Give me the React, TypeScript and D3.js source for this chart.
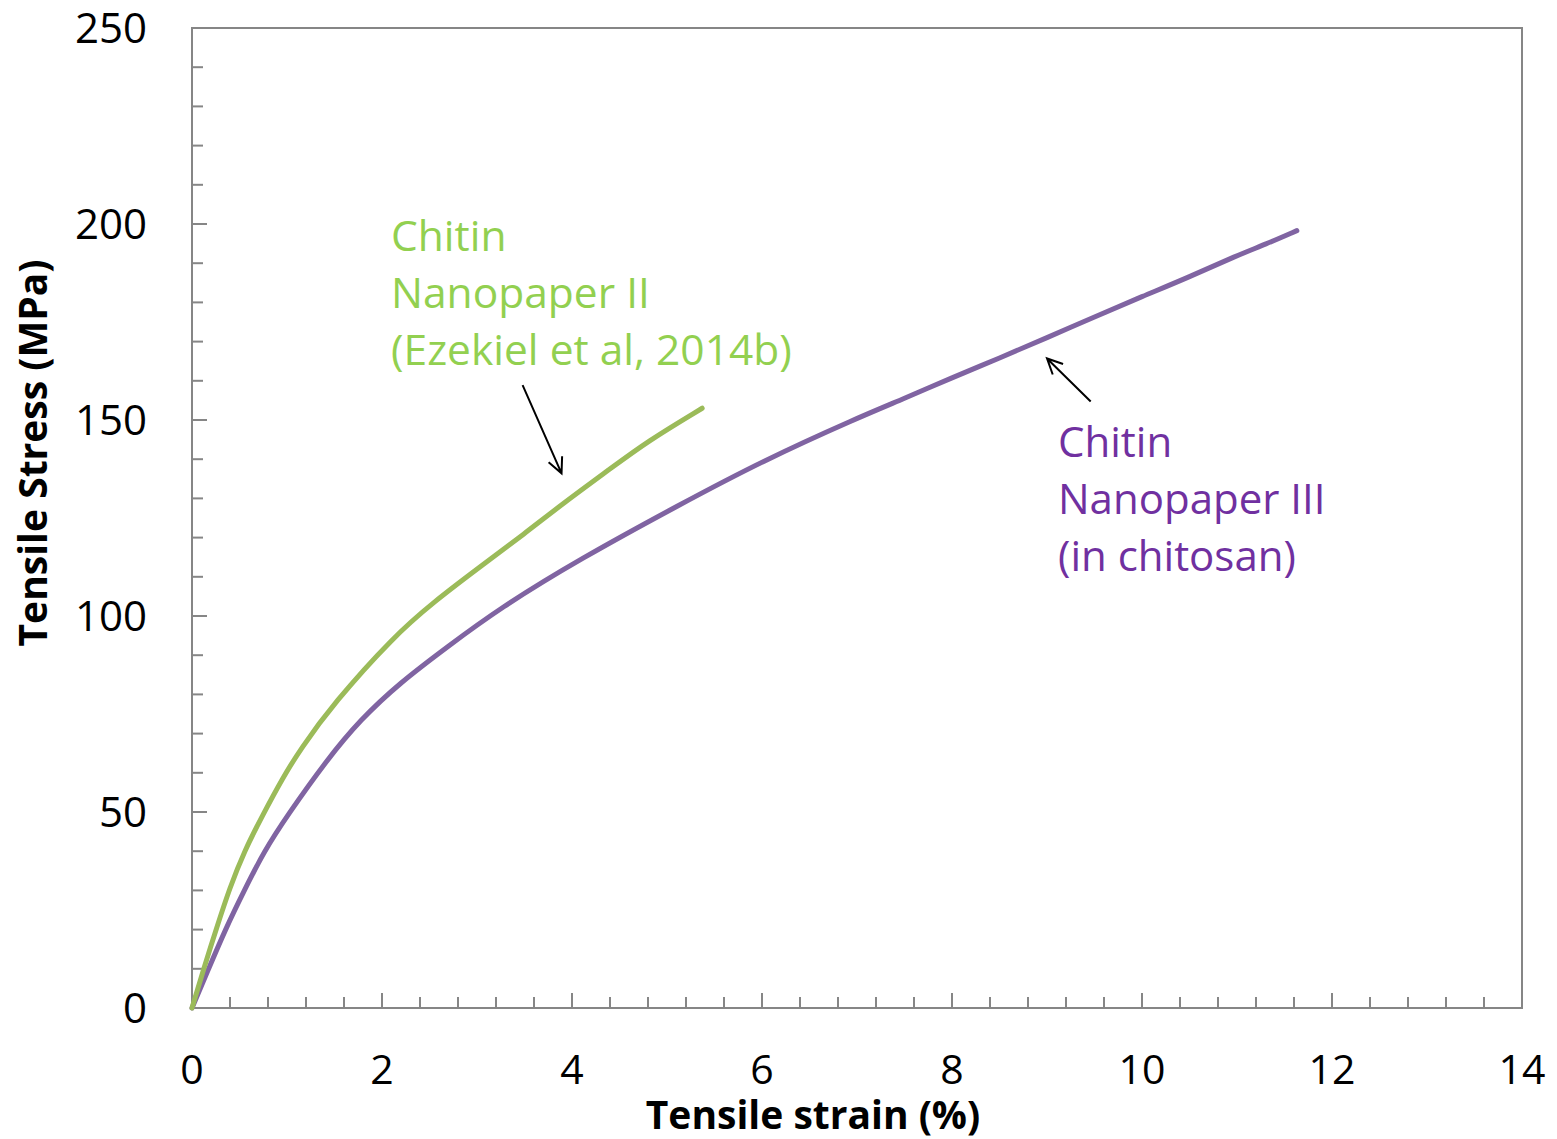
import React from "react";
import * as d3 from "d3";

// strain (%) / stress (MPa)
const strainII = [0, 0.123, 0.26, 0.395, 0.55, 0.75, 0.95, 1.14, 1.49, 2.12, 2.54, 3.03, 3.5, 3.91, 4.4, 4.79, 5.37];
const stressII = [0, 10, 20.5, 30.5, 40, 49.5, 58.5, 66, 77.7, 94.7, 103.5, 112.5, 121, 128.8, 137.5, 144.5, 153];

const strainIII = [0, 0.175, 0.35, 0.55, 0.76, 1.0, 1.42, 1.77, 2.19, 2.68, 3.24, 4.08, 5.14, 6.0, 7.0, 7.5, 8.0, 8.5, 9.0, 9.5, 10.0, 10.5, 11.0, 11.3, 11.63];
const stressIII = [0, 10, 20, 30, 40, 49, 63.3, 73.5, 83, 92, 102, 114.5, 128.5, 139.5, 150.5, 155.5, 160.8, 165.8, 171, 176.3, 181.5, 186.5, 192, 194.8, 198.3];

const xTicks = [0, 2, 4, 6, 8, 10, 12, 14];
const yTicks = [0, 50, 100, 150, 200, 250];

const labelII = ["Chitin", "Nanopaper II", "(Ezekiel et al, 2014b)"];
const labelIII = ["Chitin", "Nanopaper III", "(in chitosan)"];

const W = 1557;
const H = 1139;
const FONT = "'Open Sans', 'Noto Sans', sans-serif";
const AXIS = "#868686";

export default function App() {
  const x = d3.scaleLinear().domain([0, 14]).range([192, 1522]);
  const y = d3.scaleLinear().domain([0, 250]).range([1008, 28]);

  // basis spline keeps the measured curves free of kinks
  const line = d3.line<number>().curve(d3.curveBasis);

  const pathII = line.x((d) => x(d)).y((_d, i) => y(stressII[i]))(strainII);
  const pathIII = line.x((d) => x(d)).y((_d, i) => y(stressIII[i]))(strainIII);

  const xMinor = d3.range(0, 14.001, 0.4).filter((v) => Math.abs(v / 2 - Math.round(v / 2)) > 0.01);
  const yMinor = d3.range(0, 250.001, 10).filter((v) => v % 50 !== 0);

  // arrow from (x1,y1) to (x2,y2) in data units, open head
  const arrow = (x1: number, y1: number, x2: number, y2: number) => {
    const ax = x(x1), ay = y(y1), bx = x(x2), by = y(y2);
    const ang = Math.atan2(by - ay, bx - ax);
    const len = 17;
    const spread = Math.PI / 7;
    const h1x = bx - len * Math.cos(ang - spread), h1y = by - len * Math.sin(ang - spread);
    const h2x = bx - len * Math.cos(ang + spread), h2y = by - len * Math.sin(ang + spread);
    return `M${ax},${ay}L${bx},${by}M${h1x},${h1y}L${bx},${by}L${h2x},${h2y}`;
  };

  return (
    <div style={{ position: "absolute", left: 0, top: 0 }}>
      <svg width={W} height={H} style={{ display: "block", background: "#fff" }}>
        {/* plot frame */}
        <rect x={192} y={28} width={1330} height={980} fill="none" stroke={AXIS} strokeWidth={2} />

        {/* minor ticks */}
        {xMinor.map((v) => (
          <line key={"xm" + v} x1={x(v)} x2={x(v)} y1={y(0)} y2={y(0) - 11} stroke={AXIS} strokeWidth={2} />
        ))}
        {yMinor.map((v) => (
          <line key={"ym" + v} x1={x(0)} x2={x(0) + 11} y1={y(v)} y2={y(v)} stroke={AXIS} strokeWidth={2} />
        ))}
        {/* major ticks */}
        {xTicks.map((v) => (
          <line key={"xM" + v} x1={x(v)} x2={x(v)} y1={y(0)} y2={y(0) - 15} stroke={AXIS} strokeWidth={2} />
        ))}
        {yTicks.map((v) => (
          <line key={"yM" + v} x1={x(0)} x2={x(0) + 15} y1={y(v)} y2={y(v)} stroke={AXIS} strokeWidth={2} />
        ))}

        {/* tick labels */}
        {xTicks.map((v) => (
          <text key={"xl" + v} x={x(v)} y={1084} textAnchor="middle" fontFamily={FONT} fontSize={41} fill="#000">
            {v}
          </text>
        ))}
        {yTicks.map((v) => (
          <text key={"yl" + v} x={147} y={y(v)} dy="0.36em" textAnchor="end" fontFamily={FONT} fontSize={42} fill="#000">
            {v}
          </text>
        ))}

        {/* axis titles */}
        <text x={813} y={1129} textAnchor="middle" fontFamily={FONT} fontWeight="bold" fontSize={39} fill="#000">
          Tensile strain (%)
        </text>
        <text
          transform={`translate(47,453) rotate(-90)`}
          textAnchor="middle"
          fontFamily={FONT}
          fontWeight="bold"
          fontSize={39}
          fill="#000"
        >
          Tensile Stress (MPa)
        </text>

        {/* curves */}
        <path d={pathIII ?? ""} fill="none" stroke="#8064A2" strokeWidth={5} strokeLinecap="round" strokeLinejoin="round" />
        <path d={pathII ?? ""} fill="none" stroke="#9BBB59" strokeWidth={5} strokeLinecap="round" strokeLinejoin="round" />

        {/* annotations */}
        <path d={arrow(3.48, 158.9, 3.89, 136.4)} fill="none" stroke="#000" strokeWidth={2} />
        <path d={arrow(9.46, 154.7, 9.0, 165.7)} fill="none" stroke="#000" strokeWidth={2} />

        {labelII.map((t, i) => (
          <text key={"a" + i} x={391} y={251 + i * 57} fontFamily={FONT} fontSize={42.5} fill="#92D050">
            {t}
          </text>
        ))}
        {labelIII.map((t, i) => (
          <text key={"b" + i} x={1058} y={457 + i * 57} fontFamily={FONT} fontSize={42} fill="#7030A0">
            {t}
          </text>
        ))}
      </svg>
    </div>
  );
}
